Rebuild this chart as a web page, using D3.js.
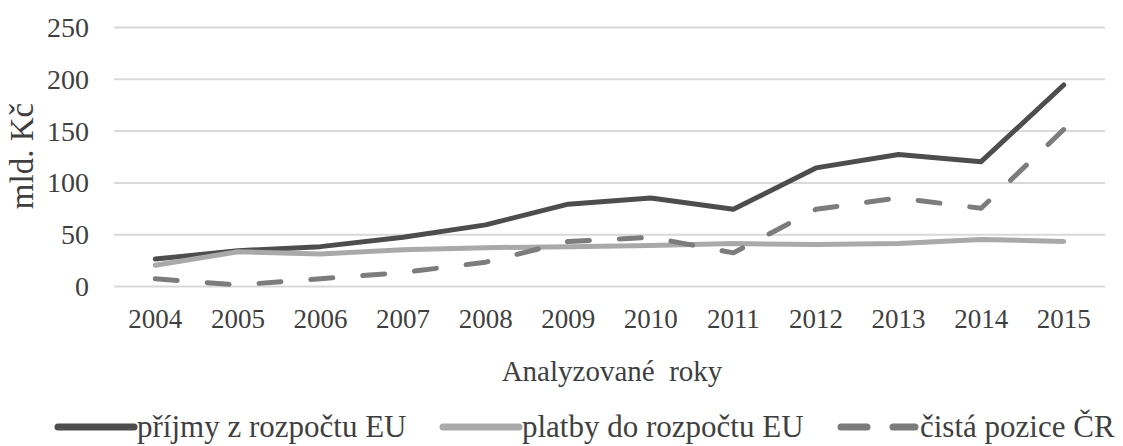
<!DOCTYPE html>
<html>
<head>
<meta charset="UTF-8">
<script src="https://d3js.org/d3.v7.min.js"></script>
<style>
  body { margin: 0; background: #fff; }
  .grid line { stroke: #d9d9d9; stroke-width: 2px; }
  .series { fill: none; stroke-width: 5px; stroke-linejoin: round; stroke-linecap: round; }
</style>
</head>
<body>
<svg id="chart"></svg>
<script>
  const years = ["2004", "2005", "2006", "2007", "2008", "2009", "2010", "2011", "2012", "2013", "2014", "2015"];
  const prijmy = [26, 34, 38, 47, 59, 79, 85, 74, 114, 127, 120, 194];
  const platby = [20, 33, 31, 35, 37, 38, 39, 41, 40, 41, 45, 43];
  const cista = [7, 1, 7, 13, 23, 43, 47, 32, 74, 85, 75, 151];
  const yTicks = [0, 50, 100, 150, 200, 250];
  const seriesNames = ["příjmy z rozpočtu EU", "platby do rozpočtu EU", "čistá pozice ČR"];

  const series = [
    { name: seriesNames[0], values: prijmy, color: "#4d4d4d", dash: null },
    { name: seriesNames[1], values: platby, color: "#a9a9a9", dash: null },
    { name: seriesNames[2], values: cista, color: "#7c7c7c", dash: "22,30" }
  ];

  const serif = "'Liberation Serif'";
  const textColor = "#3f3f3f";
  const width = 1123, height = 446;
  const margin = { top: 27, right: 18, bottom: 160, left: 114 };

  const svg = d3.select("#chart").attr("width", width).attr("height", height);

  const x = d3.scaleBand()
    .domain(years)
    .range([margin.left, width - margin.right]);

  const y = d3.scaleLinear()
    .domain([0, 250])
    .range([height - margin.bottom, margin.top]);

  // gridlines + y labels
  const gy = svg.append("g")
    .attr("class", "grid")
    .attr("transform", `translate(${margin.left},0)`)
    .call(d3.axisLeft(y).tickValues(yTicks).tickSize(-(width - margin.left - margin.right)).tickPadding(25));
  gy.select(".domain").remove();
  gy.selectAll("text")
    .style("font-family", serif)
    .style("font-size", "28px")
    .attr("dy", "0.34em")
    .attr("fill", textColor);

  // x labels
  const gx = svg.append("g")
    .attr("transform", `translate(0,${height - margin.bottom})`)
    .call(d3.axisBottom(x).tickSize(0).tickPadding(23));
  gx.select(".domain").remove();
  gx.selectAll("text")
    .style("font-family", serif)
    .style("font-size", "27px")
    .attr("fill", textColor);

  const line = d3.line()
    .x((d, i) => x(years[i]) + x.bandwidth() / 2)
    .y(d => y(d));

  svg.selectAll(".series")
    .data(series)
    .enter().append("path")
    .attr("class", "series")
    .attr("d", d => line(d.values))
    .attr("stroke", d => d.color)
    .attr("stroke-dasharray", d => d.dash);

  // axis titles
  svg.append("text")
    .attr("x", 612)
    .attr("y", 381)
    .attr("text-anchor", "middle")
    .attr("fill", textColor)
    .style("font-family", serif)
    .style("font-size", "29px")
    .style("white-space", "pre")
    .text("Analyzované  roky");

  svg.append("text")
    .attr("transform", "translate(33,156) rotate(-90)")
    .attr("text-anchor", "middle")
    .attr("fill", textColor)
    .style("font-family", serif)
    .style("font-size", "33px")
    .text("mld. Kč");

  // legend
  const legendX = [55, 440, 838];
  const legend = svg.selectAll(".legend")
    .data(series)
    .enter().append("g")
    .attr("class", "legend")
    .attr("transform", (d, i) => `translate(${legendX[i]},427)`);

  legend.append("line")
    .attr("x1", 3).attr("x2", d => d.dash ? 77 : 79)
    .attr("stroke", d => d.color)
    .attr("stroke-width", 7)
    .attr("stroke-linecap", "round")
    .attr("stroke-dasharray", d => d.dash ? "26,26" : null);

  legend.append("text")
    .attr("x", 82)
    .attr("y", 10)
    .attr("fill", textColor)
    .style("font-family", serif)
    .style("font-size", "31px")
    .text(d => d.name);
</script>
</body>
</html>
